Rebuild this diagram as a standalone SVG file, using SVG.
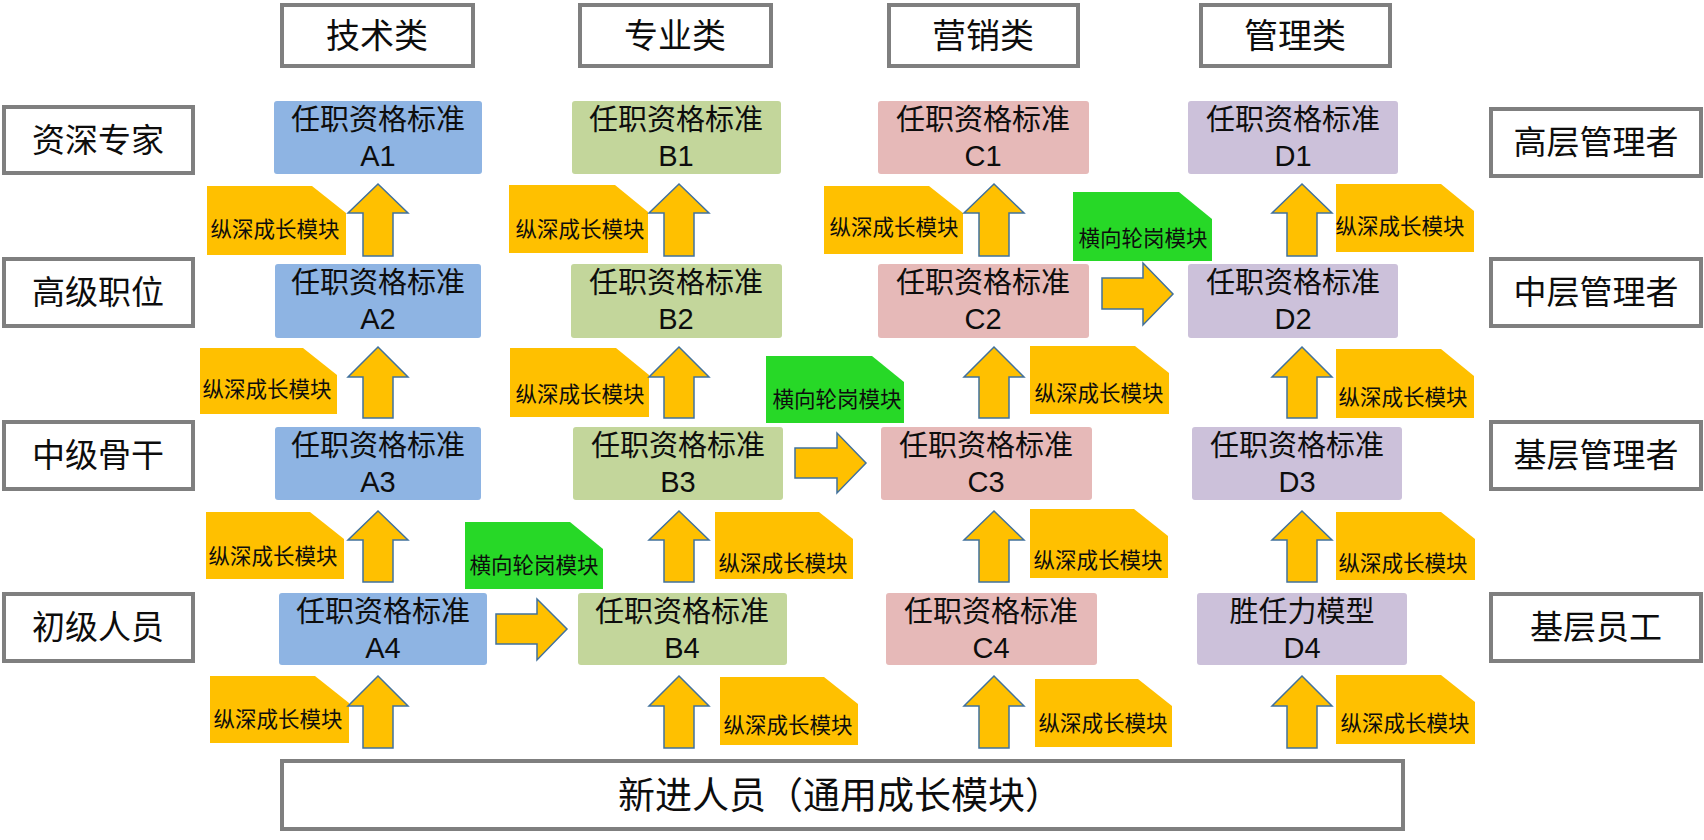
<svg xmlns="http://www.w3.org/2000/svg" width="1704" height="840" viewBox="0 0 1704 840">
<style>
text{font-family:"Noto Sans CJK SC","Noto Sans",sans-serif;fill:#0d0d0d;text-anchor:middle}
.lb{fill:#fff;stroke:#7f7f7f;stroke-width:4}
.lt{font-size:33px}
.ht{font-size:34px}
.nt{font-size:29px}
.nc{font-size:29px;font-family:"Liberation Sans",Arial,sans-serif}
.dt{font-size:21.5px}
.a{fill:#8eb4e3}.b{fill:#c3d69b}.c{fill:#e6b9b8}.d{fill:#ccc1da}
.dy{fill:#ffc000}.dg{fill:#27d827}
.ar{fill:#ffc000;stroke:#41719c;stroke-width:1.5;stroke-linejoin:miter}
</style>
<rect width="1704" height="840" fill="#fff"/>

<g id="headers">
<g id="h-tech"><rect class="lb" x="282" y="5" width="191" height="61"/><text class="ht" x="377" y="48">技术类</text></g>
<g id="h-prof"><rect class="lb" x="580" y="5" width="191" height="61"/><text class="ht" x="675" y="48">专业类</text></g>
<g id="h-mkt"><rect class="lb" x="889" y="5" width="189" height="61"/><text class="ht" x="983" y="48">营销类</text></g>
<g id="h-mgmt"><rect class="lb" x="1201" y="5" width="189" height="61"/><text class="ht" x="1295" y="48">管理类</text></g>
</g>

<g id="left-labels">
<g id="l1"><rect class="lb" x="4" y="107" width="189" height="66"/><text class="lt" x="98" y="152">资深专家</text></g>
<g id="l2"><rect class="lb" x="4" y="259" width="189" height="67"/><text class="lt" x="98" y="304">高级职位</text></g>
<g id="l3"><rect class="lb" x="4" y="422" width="189" height="67"/><text class="lt" x="98" y="467">中级骨干</text></g>
<g id="l4"><rect class="lb" x="4" y="594" width="189" height="67"/><text class="lt" x="98" y="639">初级人员</text></g>
</g>

<g id="right-labels">
<g id="r1"><rect class="lb" x="1491" y="109" width="210" height="67"/><text class="lt" x="1596" y="154">高层管理者</text></g>
<g id="r2"><rect class="lb" x="1491" y="259" width="210" height="67"/><text class="lt" x="1596" y="304">中层管理者</text></g>
<g id="r3"><rect class="lb" x="1491" y="422" width="210" height="67"/><text class="lt" x="1596" y="467">基层管理者</text></g>
<g id="r4"><rect class="lb" x="1491" y="594" width="210" height="67"/><text class="lt" x="1596" y="639">基层员工</text></g>
</g>

<g id="nodes">
<g id="A1"><rect class="a" x="274" y="101" width="208" height="73" rx="3"/><text class="nt" x="378" y="130">任职资格标准</text><text class="nc" x="378" y="166">A1</text></g>
<g id="A2"><rect class="a" x="275" y="264" width="206" height="74" rx="3"/><text class="nt" x="378" y="293">任职资格标准</text><text class="nc" x="378" y="329">A2</text></g>
<g id="A3"><rect class="a" x="275" y="427" width="206" height="73" rx="3"/><text class="nt" x="378" y="456">任职资格标准</text><text class="nc" x="378" y="492">A3</text></g>
<g id="A4"><rect class="a" x="279" y="593" width="208" height="72" rx="3"/><text class="nt" x="383" y="622">任职资格标准</text><text class="nc" x="383" y="658">A4</text></g>

<g id="B1"><rect class="b" x="572" y="101" width="209" height="73" rx="3"/><text class="nt" x="676" y="130">任职资格标准</text><text class="nc" x="676" y="166">B1</text></g>
<g id="B2"><rect class="b" x="571" y="264" width="211" height="74" rx="3"/><text class="nt" x="676" y="293">任职资格标准</text><text class="nc" x="676" y="329">B2</text></g>
<g id="B3"><rect class="b" x="573" y="427" width="210" height="73" rx="3"/><text class="nt" x="678" y="456">任职资格标准</text><text class="nc" x="678" y="492">B3</text></g>
<g id="B4"><rect class="b" x="578" y="593" width="209" height="72" rx="3"/><text class="nt" x="682" y="622">任职资格标准</text><text class="nc" x="682" y="658">B4</text></g>

<g id="C1"><rect class="c" x="878" y="101" width="211" height="73" rx="3"/><text class="nt" x="983" y="130">任职资格标准</text><text class="nc" x="983" y="166">C1</text></g>
<g id="C2"><rect class="c" x="878" y="264" width="211" height="74" rx="3"/><text class="nt" x="983" y="293">任职资格标准</text><text class="nc" x="983" y="329">C2</text></g>
<g id="C3"><rect class="c" x="881" y="427" width="211" height="73" rx="3"/><text class="nt" x="986" y="456">任职资格标准</text><text class="nc" x="986" y="492">C3</text></g>
<g id="C4"><rect class="c" x="886" y="593" width="211" height="72" rx="3"/><text class="nt" x="991" y="622">任职资格标准</text><text class="nc" x="991" y="658">C4</text></g>

<g id="D1"><rect class="d" x="1188" y="101" width="210" height="73" rx="3"/><text class="nt" x="1293" y="130">任职资格标准</text><text class="nc" x="1293" y="166">D1</text></g>
<g id="D2"><rect class="d" x="1188" y="264" width="210" height="74" rx="3"/><text class="nt" x="1293" y="293">任职资格标准</text><text class="nc" x="1293" y="329">D2</text></g>
<g id="D3"><rect class="d" x="1192" y="427" width="210" height="73" rx="3"/><text class="nt" x="1297" y="456">任职资格标准</text><text class="nc" x="1297" y="492">D3</text></g>
<g id="D4"><rect class="d" x="1197" y="593" width="210" height="72" rx="3"/><text class="nt" x="1302" y="622">胜任力模型</text><text class="nc" x="1302" y="658">D4</text></g>

<g id="base"><rect class="lb" x="282" y="761" width="1121" height="68"/><text x="840" y="809" style="font-size:37px">新进人员（通用成长模块）</text></g>
</g>

<g id="modules">
<g id="m-a1"><path class="dy" d="M207,186H312L346,213V255H207Z"/><text class="dt" x="275" y="237">纵深成长模块</text></g>
<g id="m-b1"><path class="dy" d="M509,185H615L648,212V253H509Z"/><text class="dt" x="580" y="237">纵深成长模块</text></g>
<g id="m-c1"><path class="dy" d="M824,186H929L963,213V254H824Z"/><text class="dt" x="894" y="235">纵深成长模块</text></g>
<g id="m-d1"><path class="dy" d="M1336,184H1441L1474,211V252H1336Z"/><text class="dt" x="1400" y="234">纵深成长模块</text></g>

<g id="m-a2"><path class="dy" d="M200,348H303L337,375V414H200Z"/><text class="dt" x="267" y="397">纵深成长模块</text></g>
<g id="m-b2"><path class="dy" d="M510,348H616L649,375V417H510Z"/><text class="dt" x="580" y="402">纵深成长模块</text></g>
<g id="m-c2"><path class="dy" d="M1030,346H1135L1169,373V414H1030Z"/><text class="dt" x="1099" y="401">纵深成长模块</text></g>
<g id="m-d2"><path class="dy" d="M1336,349H1441L1474,376V418H1336Z"/><text class="dt" x="1403" y="405">纵深成长模块</text></g>

<g id="m-a3"><path class="dy" d="M206,512H310L344,539V579H206Z"/><text class="dt" x="273" y="564">纵深成长模块</text></g>
<g id="m-b3"><path class="dy" d="M715,512H819L853,539V579H715Z"/><text class="dt" x="783" y="571">纵深成长模块</text></g>
<g id="m-c3"><path class="dy" d="M1030,509H1134L1168,536V578H1030Z"/><text class="dt" x="1098" y="568">纵深成长模块</text></g>
<g id="m-d3"><path class="dy" d="M1336,512H1441L1475,539V580H1336Z"/><text class="dt" x="1403" y="571">纵深成长模块</text></g>

<g id="m-a4"><path class="dy" d="M210,676H315L349,703V743H210Z"/><text class="dt" x="278" y="727">纵深成长模块</text></g>
<g id="m-b4"><path class="dy" d="M720,677H824L858,704V745H720Z"/><text class="dt" x="788" y="733">纵深成长模块</text></g>
<g id="m-c4"><path class="dy" d="M1035,679H1138L1172,706V747H1035Z"/><text class="dt" x="1103" y="731">纵深成长模块</text></g>
<g id="m-d4"><path class="dy" d="M1336,675H1441L1475,702V744H1336Z"/><text class="dt" x="1405" y="731">纵深成长模块</text></g>

<g id="g-ab"><path class="dg" d="M465,522H570L603,549V589H465Z"/><text class="dt" x="534" y="573">横向轮岗模块</text></g>
<g id="g-bc"><path class="dg" d="M766,356H872L904,382V423H766Z"/><text class="dt" x="837" y="407">横向轮岗模块</text></g>
<g id="g-cd"><path class="dg" d="M1073,192H1179L1212,219V261H1073Z"/><text class="dt" x="1143" y="246">横向轮岗模块</text></g>
</g>

<g id="connectors">
<polygon class="ar" points="378,184 408,213 393,213 393,256 363,256 363,213 348,213"/>
<polygon class="ar" points="679,184 709,213 694,213 694,256 664,256 664,213 649,213"/>
<polygon class="ar" points="994,184 1024,213 1009,213 1009,256 979,256 979,213 964,213"/>
<polygon class="ar" points="1302,184 1332,213 1317,213 1317,256 1287,256 1287,213 1272,213"/>
<polygon class="ar" points="378,347 408,377 393,377 393,418 363,418 363,377 348,377"/>
<polygon class="ar" points="679,347 709,377 694,377 694,418 664,418 664,377 649,377"/>
<polygon class="ar" points="994,347 1024,377 1009,377 1009,418 979,418 979,377 964,377"/>
<polygon class="ar" points="1302,347 1332,377 1317,377 1317,418 1287,418 1287,377 1272,377"/>
<polygon class="ar" points="378,511 408,540 393,540 393,582 363,582 363,540 348,540"/>
<polygon class="ar" points="679,511 709,540 694,540 694,582 664,582 664,540 649,540"/>
<polygon class="ar" points="994,511 1024,540 1009,540 1009,582 979,582 979,540 964,540"/>
<polygon class="ar" points="1302,511 1332,540 1317,540 1317,582 1287,582 1287,540 1272,540"/>
<polygon class="ar" points="378,676 408,706 393,706 393,748 363,748 363,706 348,706"/>
<polygon class="ar" points="679,676 709,706 694,706 694,748 664,748 664,706 649,706"/>
<polygon class="ar" points="994,676 1024,706 1009,706 1009,748 979,748 979,706 964,706"/>
<polygon class="ar" points="1302,676 1332,706 1317,706 1317,748 1287,748 1287,706 1272,706"/>
<polygon class="ar" points="496,614 537,614 537,599 567,629 537,660 537,644 496,644"/>
<polygon class="ar" points="795,448 837,448 837,433 866,463 837,493 837,478 795,478"/>
<polygon class="ar" points="1102,278 1143,278 1143,263 1173,294 1143,325 1143,309 1102,309"/>
</g>
</svg>
